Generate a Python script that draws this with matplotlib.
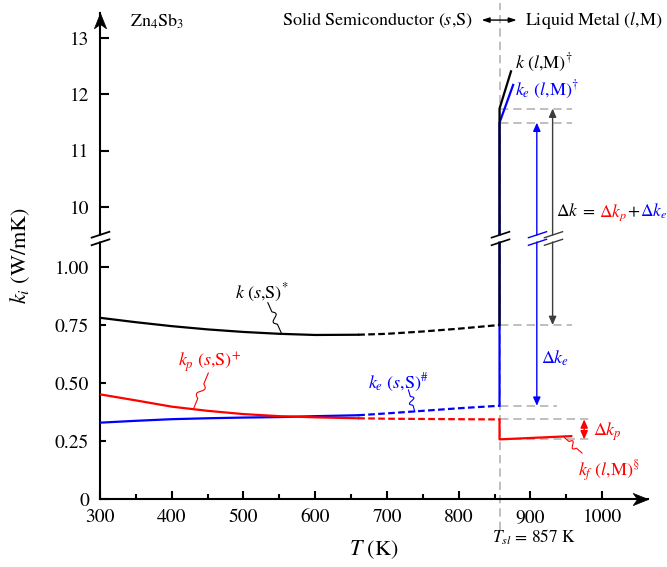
import numpy as np
import matplotlib.pyplot as plt
from matplotlib.path import Path
from matplotlib.offsetbox import TextArea, HPacker, AnnotationBbox, DrawingArea

plt.rcParams['font.family'] = 'STIXGeneral'
plt.rcParams['mathtext.fontset'] = 'stix'

# solid phase, T in K and conductivities in W/mK
T_s = [300, 350, 400, 450, 500, 550, 600, 660, 700, 750, 800, 857]
k_s = [0.781, 0.762, 0.745, 0.731, 0.720, 0.712, 0.707, 0.708, 0.712, 0.722, 0.734, 0.750]
kp_s = [0.451, 0.425, 0.398, 0.380, 0.366, 0.357, 0.352, 0.348, 0.346, 0.345, 0.344, 0.343]
ke_s = [0.329, 0.337, 0.344, 0.348, 0.351, 0.353, 0.357, 0.361, 0.369, 0.380, 0.391, 0.402]
n_solid = 8  # up to 660 K drawn solid, rest dashed

# liquid phase
T_melt = 857
T_kf = [857, 957]
kf_l = [0.257, 0.271]
T_kel = [857, 876]
ke_l = [11.50, 12.17]
T_kl = [857, 873]
k_l = [11.75, 12.41]

xticks = [300, 400, 500, 600, 700, 800, 900, 1000]
xminor = [350, 450, 550, 650, 750, 850, 950]
yticks = [0, 1.0, 10, 11, 12, 13]
ylabels = ['0', '1.00', '10', '11', '12', '13']
yminor = [0.25, 0.5, 0.75]
yminor_labels = ['0.25', '0.50', '0.75']

RED = '#ff0000'
BLUE = '#0000ff'
GREY = '#b4b4b4'
DARK = '#3c3c3c'

# broken y axis: 0-1 and 10-13 squeezed together
V_PTS = [-1, 0, 1, 10, 20]
D_PTS = [-4, 0, 4, 5.03, 5.03 + 10 * 0.972]


def fwd(v):
    return np.interp(v, V_PTS, D_PTS)


def inv(d):
    return np.interp(d, D_PTS, V_PTS)


fig = plt.figure(figsize=(6.67, 5.67), dpi=100)
ax = fig.add_axes([100 / 667, 68 / 567, 548 / 667, 486 / 567])
ax.set_yscale('function', functions=(fwd, inv))
ax.set_xlim(300, 1064)
ax.set_ylim(0, inv(8.379))

for s in ['top', 'right']:
    ax.spines[s].set_visible(False)
for s in ['left', 'bottom']:
    ax.spines[s].set_linewidth(1.5)

ax.set_xticks(xticks)
ax.set_xticks(xminor, minor=True)
ax.set_yticks(yticks, ylabels)
ax.set_yticks(yminor, yminor_labels, minor=True)
ax.tick_params(which='both', direction='in', width=1.5, labelsize=14)
ax.tick_params(axis='x', which='major', length=6, pad=7)
ax.tick_params(axis='x', which='minor', length=3.5)
ax.tick_params(axis='y', which='major', length=6.5, pad=8)
ax.tick_params(axis='y', which='minor', length=4, pad=8)

ax.set_xlabel(r'$T$ (K)', fontsize=16)
ax.xaxis.set_label_coords(0.5, -0.080)
ax.set_ylabel(r'$k_i$ (W/mK)', fontsize=16)
ax.yaxis.set_label_coords(-0.124, 0.5)

# axis arrow heads
XHEAD = Path([(0, 0), (-1, 0.4), (-0.72, 0), (-1, -0.4), (0, 0)],
             [Path.MOVETO, Path.LINETO, Path.LINETO, Path.LINETO, Path.CLOSEPOLY])
YHEAD = Path([(0, 0), (-0.4, -1), (0, -0.72), (0.4, -1), (0, 0)],
             [Path.MOVETO, Path.LINETO, Path.LINETO, Path.LINETO, Path.CLOSEPOLY])
ax.plot(1, 0, marker=XHEAD, ms=22, color='k', mew=0.5, transform=ax.transAxes, clip_on=False, zorder=8)
ax.plot(0, 1, marker=YHEAD, ms=22, color='k', mew=0.5, transform=ax.transAxes, clip_on=False, zorder=8)

# melting point
ax.axvline(T_melt, ymin=-0.064, ymax=1.02, color=GREY, lw=1.2, ls=(0, (5, 3)), clip_on=False, zorder=1)

# reference levels at the transition
for y, x1 in [(k_l[0], 958), (ke_l[0], 958), (k_s[-1], 958), (ke_s[-1], 937),
              (kp_s[-1], 984), (kf_l[0], 984)]:
    ax.plot([T_melt, x1], [y, y], color=GREY, lw=1.2, ls=(0, (5, 3)), zorder=1)

lw = 1.6
dash = (0, (3, 1.5))
# electronic part
ax.plot(T_s[:n_solid], ke_s[:n_solid], color=BLUE, lw=lw, zorder=3)
ax.plot(T_s[n_solid - 1:], ke_s[n_solid - 1:], color=BLUE, lw=lw, ls=dash, zorder=3)
ax.plot([T_melt] + T_kel, [ke_s[-1]] + ke_l, color=BLUE, lw=lw, zorder=3)
# phonon part
ax.plot(T_s[:n_solid], kp_s[:n_solid], color=RED, lw=lw, zorder=3)
ax.plot(T_s[n_solid - 1:], kp_s[n_solid - 1:], color=RED, lw=lw, ls=dash, zorder=3)
ax.plot([T_melt] + T_kf, [kp_s[-1]] + kf_l, color=RED, lw=lw, zorder=3)
# total
ax.plot(T_s[:n_solid], k_s[:n_solid], color='k', lw=lw, zorder=4)
ax.plot(T_s[n_solid - 1:], k_s[n_solid - 1:], color='k', lw=lw, ls=dash, zorder=4)
ax.plot([T_melt] + T_kl, [k_s[-1]] + k_l, color='k', lw=lw, zorder=4)


def darrow(x, y0, y1, color):
    ax.annotate('', xy=(x, y1), xytext=(x, y0),
                arrowprops=dict(arrowstyle='<|-|>,head_length=0.5,head_width=0.22',
                                color=color, lw=1, shrinkA=0, shrinkB=0, mutation_scale=10),
                zorder=3)


darrow(931, k_s[-1], k_l[0], DARK)
darrow(909, ke_s[-1], ke_l[0], BLUE)
darrow(975, kf_l[0], kp_s[-1], RED)

# break marks
BRK = Path([(-1, -0.72), (1, -0.06), (-1, 0.06), (1, 0.72)],
           [Path.MOVETO, Path.LINETO, Path.MOVETO, Path.LINETO])
GAP = Path([(0, -1), (0, 1)], [Path.MOVETO, Path.LINETO])
brk_v = inv(4.5)


def axis_break(x, color, w):
    ax.plot([x], [brk_v], marker=GAP, ms=5, mec='white', mew=5, ls='none', zorder=6, clip_on=False)
    ax.plot([x], [brk_v], marker=BRK, ms=14, mec=color, mew=w, ls='none', zorder=7, clip_on=False)


axis_break(300, 'k', 1.3)
axis_break(T_melt, 'k', 1.2)
axis_break(909, BLUE, 1.0)
axis_break(931, DARK, 1.0)


def squiggle(p0, p1, color, amp=3.0):
    a = ax.transData.transform(p0)
    b = ax.transData.transform(p1)
    t = np.linspace(0, 1, 80)
    d = b - a
    n = np.array([-d[1], d[0]]) / np.hypot(*d)
    w = np.where((t > 0.3) & (t < 0.7), np.sin(2 * np.pi * (t - 0.3) / 0.4), 0)
    pts = a + np.outer(t, d) + np.outer(amp * w, n)
    xy = ax.transData.inverted().transform(pts)
    ax.plot(xy[:, 0], xy[:, 1], color=color, lw=0.8, zorder=3)


fs = 13
ax.text(488, 0.89, r'$k\ (s{,}\mathrm{S})^{*}$', fontsize=fs, ha='left', va='center')
squiggle((534, 0.846), (553, 0.714), 'k')
ax.text(409, 0.586, r'$k_p\ (s{,}\mathrm{S})^{+}$', fontsize=fs, color=RED, ha='left', va='center')
squiggle((451, 0.543), (430, 0.386), RED)
ax.text(674, 0.50, r'$k_e\ (s{,}\mathrm{S})^{\#}$', fontsize=fs, color=BLUE, ha='left', va='center')
squiggle((730, 0.470), (739, 0.376), BLUE)
ax.text(879, 12.56, r'$k\ (l{,}\mathrm{M})^{\dagger}$', fontsize=fs, ha='left', va='center')
ax.text(879, 12.08, r'$k_e\ (l{,}\mathrm{M})^{\dagger}$', fontsize=fs, color=BLUE, ha='left', va='center')
ax.text(967, 0.118, r'$k_f\ (l{,}\mathrm{M})^{\S}$', fontsize=fs, color=RED, ha='left', va='center')
squiggle((946, 0.269), (972, 0.198), RED)
ax.text(915, 0.608, r'$\Delta k_e$', fontsize=fs, color=BLUE, ha='left', va='center')
ax.text(988, 0.29, r'$\Delta k_p$', fontsize=fs, color=RED, ha='left', va='center')

# coloured sum: Δk = Δk_p + Δk_e
fs_sum = 12.5
parts = [TextArea(r'$\Delta k\;=$', textprops=dict(color='k', fontsize=fs_sum)),
         DrawingArea(2.5, 1),
         TextArea(r'$\Delta k_p$', textprops=dict(color=RED, fontsize=fs_sum)),
         TextArea(r'$+$', textprops=dict(color='k', fontsize=fs_sum)),
         TextArea(r'$\Delta k_e$', textprops=dict(color=BLUE, fontsize=fs_sum))]
box = HPacker(children=parts, align='baseline', pad=0, sep=0)
ax.add_artist(AnnotationBbox(box, (936, 9.3), xycoords='data', box_alignment=(0, 0.5),
                             frameon=False, pad=0))

ax.text(342, 13.29, r'Zn$_4$Sb$_3$', fontsize=13, ha='left', va='center')
ax.text(820, 13.32, r'Solid Semiconductor ($s$,S)', fontsize=fs, ha='right', va='center')
ax.text(893, 13.32, r'Liquid Metal ($l$,M)', fontsize=fs, ha='left', va='center')
ax.annotate('', xy=(881, 13.32), xytext=(832, 13.32),
            arrowprops=dict(arrowstyle='<|-|>,head_length=0.45,head_width=0.15',
                            color='k', lw=1, shrinkA=0, shrinkB=0, mutation_scale=10),
            annotation_clip=False)
ax.text(846, -0.164, r'$T_{sl}$ = 857 K', fontsize=12.5, ha='left', va='center')

fig.savefig('out.png', dpi=100)
